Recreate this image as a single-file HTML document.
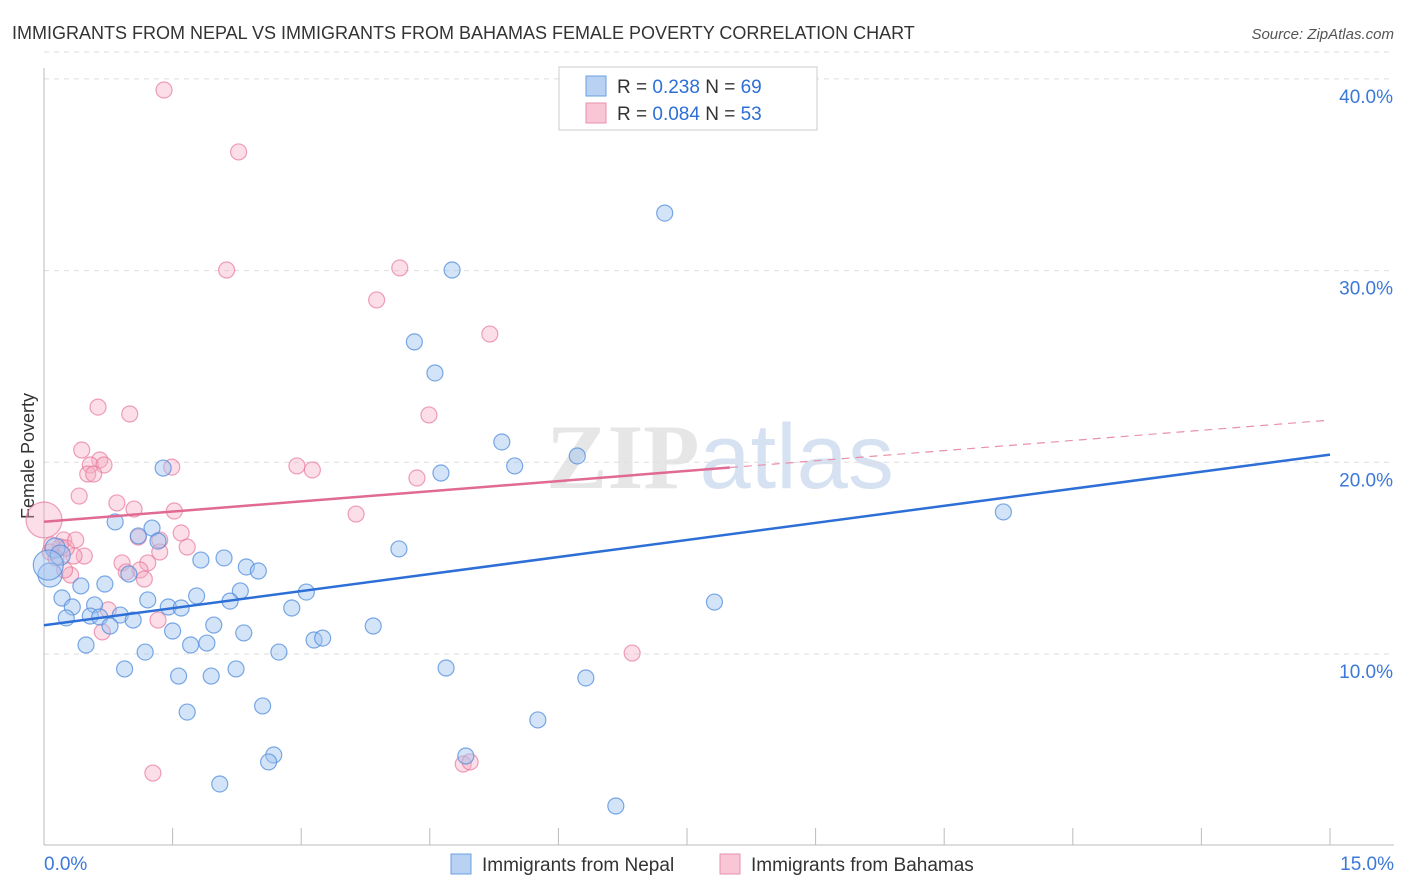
<!DOCTYPE html>
<html><head><meta charset="utf-8"><style>
body{margin:0;background:#fff;font-family:"Liberation Sans",sans-serif}
svg{display:block}
</style></head><body>
<svg id="c" width="1406" height="892" viewBox="0 0 1406 892" xmlns="http://www.w3.org/2000/svg">
<text x="12" y="39" font-size="18" fill="#333">IMMIGRANTS FROM NEPAL VS IMMIGRANTS FROM BAHAMAS FEMALE POVERTY CORRELATION CHART</text>
<text x="1394" y="39" font-size="15" fill="#555" font-style="italic" text-anchor="end">Source: ZipAtlas.com</text>
<text x="720" y="488" font-size="92" fill="#e6e6e6" text-anchor="middle" font-family="Liberation Serif"><tspan font-weight="bold">ZIP</tspan><tspan fill="#d6e2f2" font-family="Liberation Sans">atlas</tspan></text>
<text transform="translate(34,456) rotate(-90)" font-size="18" fill="#333" text-anchor="middle">Female Poverty</text>
<g id="grid"></g><g id="ticks"></g><g id="pts"></g><g id="lines"></g>
<g>
<rect x="559" y="67" width="258" height="63" fill="#fff" stroke="#ccc"/>
<rect x="586" y="76" width="20" height="20" fill="#b9d2f4" stroke="#6a9fe0"/>
<text x="617" y="93" font-size="19" fill="#333">R = <tspan fill="#2d6fd6">0.238</tspan>   N = <tspan fill="#2d6fd6">69</tspan></text>
<rect x="586" y="103" width="20" height="20" fill="#f8c6d5" stroke="#e890ac"/>
<text x="617" y="120" font-size="19" fill="#333">R = <tspan fill="#2d6fd6">0.084</tspan>   N = <tspan fill="#2d6fd6">53</tspan></text>
</g>
<g>
<rect x="451" y="854" width="20" height="20" fill="#b9d2f4" stroke="#6a9fe0"/>
<text x="482" y="871" font-size="19" fill="#333">Immigrants from Nepal</text>
<rect x="720" y="854" width="20" height="20" fill="#f8c6d5" stroke="#e890ac"/>
<text x="751" y="871" font-size="19" fill="#333">Immigrants from Bahamas</text>
</g>
</svg>
<script>
const yTicks=[10,20,30,40];
const yTickLabels=["10.0%","20.0%","30.0%","40.0%"];
const xTickCount=10;
const xTickLabels=["0.0%","15.0%"];
const nepalX=[7.24,4.76,4.32,4.56,5.34,5.49,6.22,4.63,1.39,11.19,0.83,1.26,1.10,1.33,4.14,1.83,2.10,2.36,2.50,0.99,0.71,0.43,2.29,3.06,1.78,2.17,1.21,0.21,0.33,0.59,1.45,1.60,2.89,7.82,0.26,0.54,0.65,0.89,1.04,0.77,1.98,1.50,2.33,3.84,3.15,3.25,0.49,1.71,1.90,1.18,2.74,0.94,2.24,1.57,1.95,4.69,6.32,1.67,2.55,5.76,2.68,2.62,4.92,2.05,6.67,0.07,0.13,0.19,0.05];
const nepalY=[33.0,30.03,26.28,24.66,21.06,19.81,20.33,19.44,19.70,17.41,16.89,16.57,16.16,15.89,15.48,14.90,15.01,14.54,14.33,14.17,13.65,13.55,13.29,13.23,13.03,12.76,12.82,12.92,12.45,12.56,12.45,12.40,12.40,12.71,11.88,11.98,11.93,12.03,11.77,11.46,11.51,11.20,11.10,11.46,10.73,10.83,10.47,10.47,10.57,10.10,10.10,9.22,9.22,8.85,8.85,9.27,8.75,6.97,7.29,6.56,4.73,4.37,4.68,3.22,2.07,14.12,15.53,15.16,14.64];
const nepalSize=[8,8,8,8,8,8,8,8,8,8,8,8,8,8,8,8,8,8,8,8,8,8,8,8,8,8,8,8,8,8,8,8,8,8,8,8,8,8,8,8,8,8,8,8,8,8,8,8,8,8,8,8,8,8,8,8,8,8,8,8,8,8,8,8,8,12,10,10,15];
const bahX=[1.40,2.27,2.13,4.15,3.88,5.20,0.63,1.00,4.49,0.44,0.65,0.54,0.70,1.49,2.95,3.13,0.51,0.58,4.35,0.41,0.85,1.05,1.52,3.64,0.0,1.10,1.60,1.67,1.35,0.23,0.19,0.47,0.35,0.07,0.14,0.91,1.21,0.31,0.24,1.12,0.96,1.17,0.75,1.33,0.68,6.86,1.27,4.89,4.97,0.09,0.26,0.37,1.35];
const bahY=[39.42,36.19,30.03,30.14,28.47,26.69,22.88,22.52,22.47,20.64,20.12,19.86,19.86,19.75,19.81,19.60,19.39,19.39,19.18,18.24,17.88,17.56,17.46,17.30,16.99,16.10,16.31,15.58,15.32,15.95,15.58,15.11,15.11,15.32,15.01,14.75,14.75,14.12,14.38,14.38,14.28,13.91,12.30,11.77,11.15,10.05,3.79,4.26,4.37,15.69,15.53,15.95,15.95];
const nepalLine=[11.5,20.4];
const bahLine=[16.9,22.2];
const bahSolidEnd=8.0;
const X=v=>44+v*(1286/15), Y=v=>845.7-v*19.17;
const NS="http://www.w3.org/2000/svg";
function mk(t,a,p){const e=document.createElementNS(NS,t);for(const k in a)e.setAttribute(k,a[k]);p.appendChild(e);return e;}
const grid=document.getElementById('grid'),ticks=document.getElementById('ticks'),pts=document.getElementById('pts'),lines=document.getElementById('lines');
yTicks.forEach((v,i)=>{
 const g=mk('line',{x1:44,x2:1394,y1:Y(v),y2:Y(v),stroke:'#ddd','stroke-dasharray':'5,5'},grid);
 
 
 const t=mk('text',{x:1393,y:Y(v)+24,'font-size':19,fill:'#3b78d8','text-anchor':'end'},ticks);
 t.textContent=yTickLabels[i];
 
 
});
const g0=mk('line',{x1:44,x2:1394,y1:Y(41.4),y2:Y(41.4),stroke:'#ddd','stroke-dasharray':'5,5'},grid);


const ax=mk('line',{x1:44,x2:1394,y1:845,y2:845,stroke:'#bbb'},ticks);


const ay=mk('line',{x1:44,x2:44,y1:68,y2:845,stroke:'#bbb'},ticks);


for(let i=1;i<=xTickCount;i++){
 const t=mk('line',{x1:X(i*1.5),x2:X(i*1.5),y1:828,y2:845,stroke:'#bbb'},ticks);
 
 
}
const xl0=mk('text',{x:44,y:870,'font-size':19,fill:'#3b78d8'},ticks);xl0.textContent=xTickLabels[0];


const xl1=mk('text',{x:1394,y:870,'font-size':19,fill:'#3b78d8','text-anchor':'end'},ticks);xl1.textContent=xTickLabels[1];


bahX.forEach((x,i)=>{
 const c=mk('circle',{cx:X(x),cy:Y(bahY[i]),r:(i===24?18:8),fill:'rgba(246,172,196,0.4)',stroke:'rgba(232,120,156,0.7)','stroke-width':1.2},pts);
 
 
});
nepalX.forEach((x,i)=>{
 const c=mk('circle',{cx:X(x),cy:Y(nepalY[i]),r:nepalSize[i],fill:'rgba(160,196,240,0.45)',stroke:'rgba(80,140,220,0.75)','stroke-width':1.2},pts);
 
 
});
const nl=mk('line',{x1:X(0),y1:Y(nepalLine[0]),x2:X(15),y2:Y(nepalLine[1]),stroke:'#2d6fd6','stroke-width':2.5},lines);


const by=x=>bahLine[0]+(bahLine[1]-bahLine[0])*x/15;
const bl=mk('line',{x1:X(0),y1:Y(by(0)),x2:X(bahSolidEnd),y2:Y(by(bahSolidEnd)),stroke:'#e06a93','stroke-width':2.5},lines);


const bd=mk('line',{x1:X(bahSolidEnd),y1:Y(by(bahSolidEnd)),x2:X(15),y2:Y(by(15)),stroke:'#e890ac','stroke-width':1.2,'stroke-dasharray':'8,6'},lines);


</script>
</body></html>
